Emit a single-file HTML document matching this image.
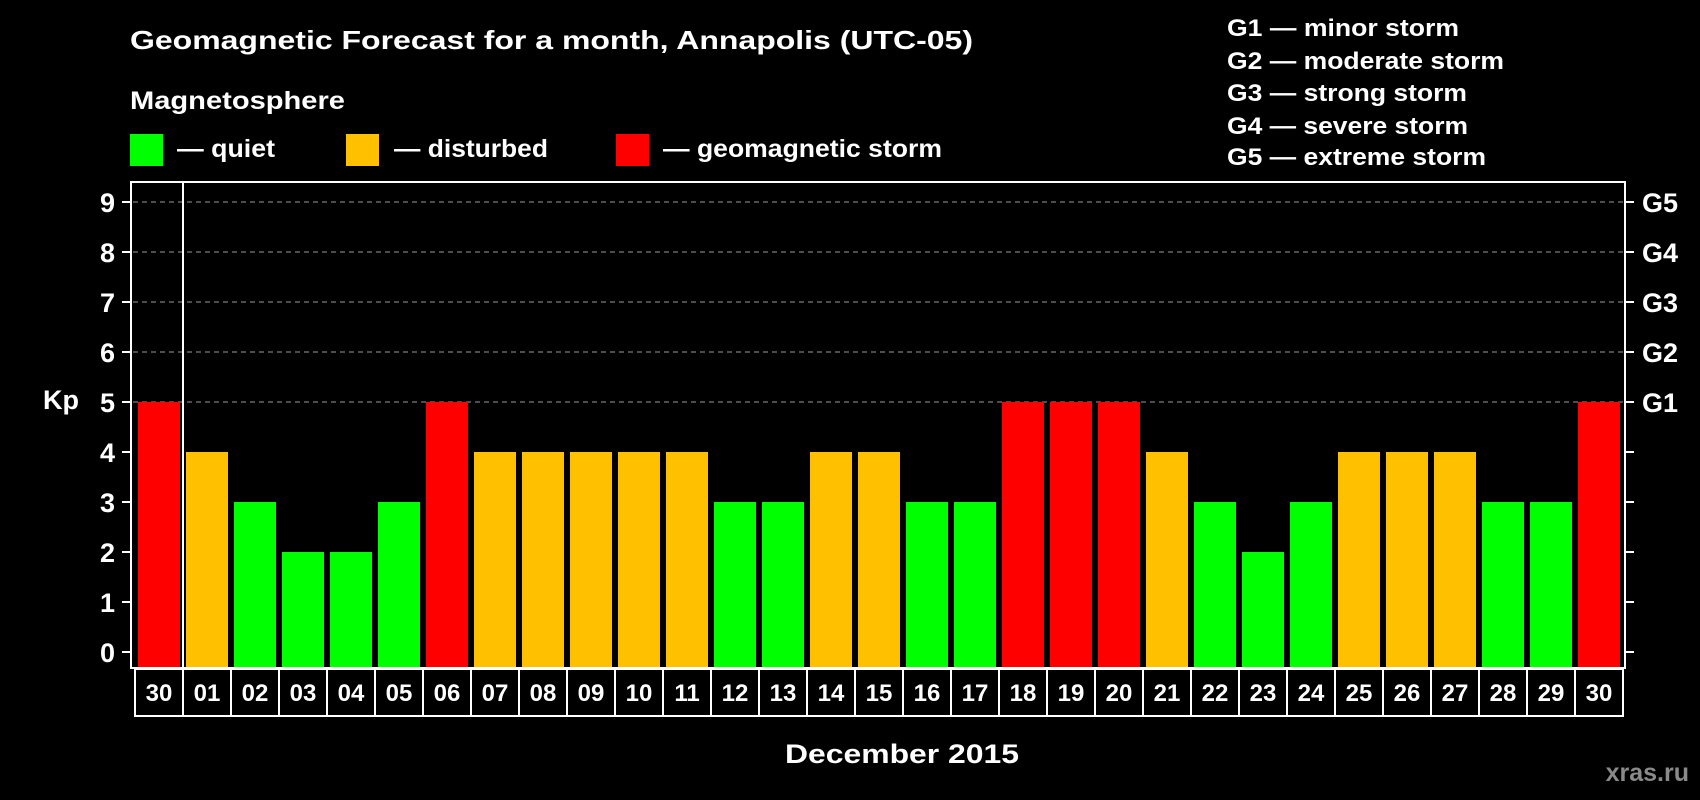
<!DOCTYPE html>
<html><head><meta charset="utf-8"><style>
html,body{margin:0;padding:0;background:#000;}
svg{display:block;font-family:"Liberation Sans",Arial,sans-serif;font-weight:bold;}
</style></head><body>
<svg id="chart" width="1700" height="800" viewBox="0 0 1700 800" xmlns="http://www.w3.org/2000/svg">
<rect x="0" y="0" width="1700" height="800" fill="#000"/>
<text x="130" y="49" font-size="26" fill="#fff" textLength="843" lengthAdjust="spacingAndGlyphs">Geomagnetic Forecast for a month, Annapolis (UTC-05)</text>
<text x="130" y="109" font-size="25" fill="#fff" textLength="215" lengthAdjust="spacingAndGlyphs">Magnetosphere</text>
<g>
<rect x="130" y="134" width="33" height="32" fill="#00ff00"/>
<text x="177" y="157" font-size="25" fill="#fff" textLength="98" lengthAdjust="spacingAndGlyphs">— quiet</text>
</g>
<g>
<rect x="346" y="134" width="33" height="32" fill="#ffc000"/>
<text x="394" y="157" font-size="25" fill="#fff" textLength="154" lengthAdjust="spacingAndGlyphs">— disturbed</text>
</g>
<g>
<rect x="616" y="134" width="33" height="32" fill="#ff0000"/>
<text x="663" y="157" font-size="25" fill="#fff" textLength="279" lengthAdjust="spacingAndGlyphs">— geomagnetic storm</text>
</g>
<g font-size="24" fill="#fff">
<text x="1227" y="36" textLength="232" lengthAdjust="spacingAndGlyphs">G1 — minor storm</text>
<text x="1227" y="69" textLength="277" lengthAdjust="spacingAndGlyphs">G2 — moderate storm</text>
<text x="1227" y="101" textLength="240" lengthAdjust="spacingAndGlyphs">G3 — strong storm</text>
<text x="1227" y="134" textLength="241" lengthAdjust="spacingAndGlyphs">G4 — severe storm</text>
<text x="1227" y="165" textLength="259" lengthAdjust="spacingAndGlyphs">G5 — extreme storm</text>
</g>
<text x="43" y="409" font-size="27" fill="#fff">Kp</text>
<text x="902" y="763" font-size="27" fill="#fff" text-anchor="middle" textLength="234" lengthAdjust="spacingAndGlyphs">December 2015</text>
<text x="1689" y="781" font-size="25" fill="#8a8a8a" text-anchor="end">xras.ru</text>
<g id="plot"></g>
</svg>
<script>
const days = ["30","01","02","03","04","05","06","07","08","09","10","11","12","13","14","15","16","17","18","19","20","21","22","23","24","25","26","27","28","29","30"];
const kpValues = [5,4,3,2,2,3,5,4,4,4,4,4,3,3,4,4,3,3,5,5,5,4,3,2,3,4,4,4,3,3,5];
const yTicks = [0,1,2,3,4,5,6,7,8,9];
const gLabels = ["G1","G2","G3","G4","G5"];
const gLevels = [5,6,7,8,9];

const NS = "http://www.w3.org/2000/svg";
const plot = document.getElementById('plot');
const L = 131, R = 1625, T = 182, B = 668;
const slotStart = 135, slotW = 48, barW = 42;
function yScale(v){ return 652 - v * 50; }
function xSlot(i){ return slotStart + i * slotW; }
function color(v){ return v >= 5 ? "#ff0000" : (v >= 4 ? "#ffc000" : "#00ff00"); }
function mk(tag, attrs){ const e = document.createElementNS(NS, tag); for (const k in attrs) e.setAttribute(k, attrs[k]); plot.appendChild(e); return e; }

// grid
gLevels.forEach(v => {
  const g = mk('line', {x1: L+2, x2: R-2, y1: yScale(v), y2: yScale(v), stroke: "#9a9a9a", "stroke-width": 1, "stroke-dasharray": "5,4"});
  
  
});
// bars
kpValues.forEach((v, i) => {
  const x = xSlot(i) + 3;
  const r = mk('rect', {x: x, y: yScale(v), width: barW, height: B - yScale(v), fill: color(v)});
  
  
});
// frame
const fr = mk('rect', {x: L, y: T, width: R - L, height: B - T, fill: "none", stroke: "#fff", "stroke-width": 2});


const sep = mk('line', {x1: xSlot(1), x2: xSlot(1), y1: T, y2: B, stroke: "#fff", "stroke-width": 2});


// y ticks
yTicks.forEach(v => {
  const y = yScale(v);
  const t1 = mk('line', {x1: 122, x2: L, y1: y, y2: y, stroke: "#fff", "stroke-width": 2});
  
  
  const t2 = mk('line', {x1: R, x2: 1634, y1: y, y2: y, stroke: "#fff", "stroke-width": 2});
  
  
  const tx = mk('text', {x: 115, y: y + 10, "font-size": 27, fill: "#fff", "text-anchor": "end"});
  tx.textContent = v;
  
  
});
gLabels.forEach((g, i) => {
  const tx = mk('text', {x: 1642, y: yScale(gLevels[i]) + 10, "font-size": 27, fill: "#fff"});
  tx.textContent = g;
  
  
});
// day label boxes
days.forEach((d, i) => {
  const x = xSlot(i);
  const bx = mk('rect', {x: x, y: 669, width: slotW, height: 47, fill: "none", stroke: "#fff", "stroke-width": 2});
  
  
  const tx = mk('text', {x: x + slotW/2, y: 701, "font-size": 24, fill: "#fff", "text-anchor": "middle"});
  tx.textContent = d;
  
  
});
</script>
</body></html>
